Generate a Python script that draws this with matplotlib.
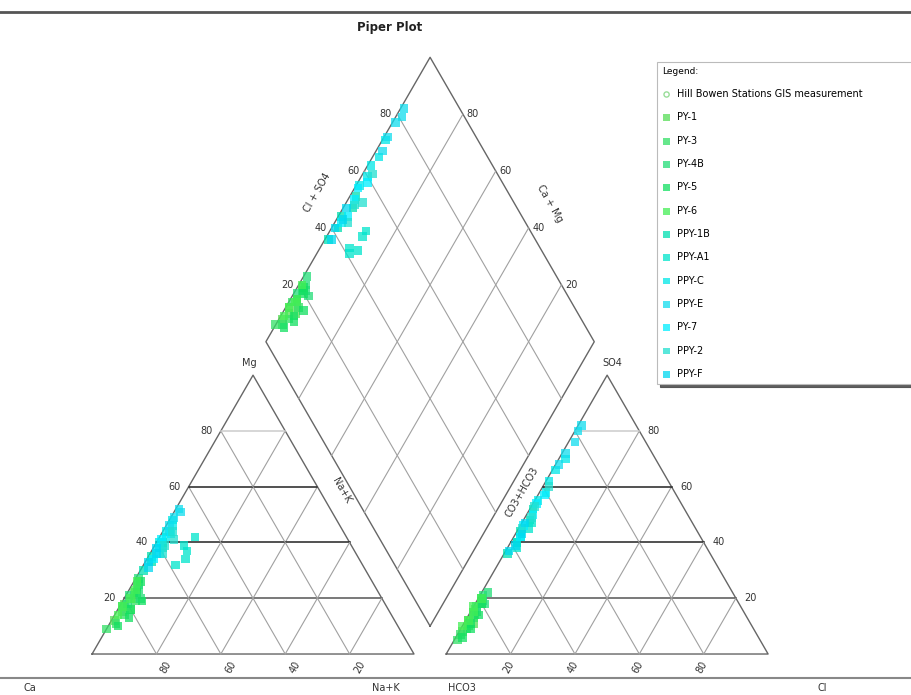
import numpy as np
import matplotlib
matplotlib.use("Agg")
import matplotlib.pyplot as plt

# series names and colours (legend order)
names = ["PY-1", "PY-3", "PY-4B", "PY-5", "PY-6",
         "PPY-1B", "PPY-A1", "PPY-C", "PPY-E", "PY-7", "PPY-2", "PPY-F"]
colors = ["#55dd55", "#33e066", "#22dd77", "#11e060", "#44ee55",
          "#00e0b0", "#00e5cc", "#00e8e8", "#11ddee", "#00eeff", "#22e0d0", "#00d8f0"]

# cation / anion percentages per sample (Ca = 100-Mg-NaK, HCO3 = 100-SO4-Cl)
mg = [[12, 15, 18, 20, 22, 16], [9, 11, 14, 17, 19, 24], [18, 21, 23, 25, 27, 20],
      [10, 13, 16, 19, 22, 26], [14, 17, 20, 23, 26],
      [30, 33, 35, 38, 40], [32, 34, 37, 39, 42], [40, 42, 44, 46, 48],
      [44, 46, 49, 51, 52], [34, 36, 38, 41, 43], [36, 39, 41, 44], [31, 33, 36, 38]]
nak = [[1, 2, 1, 3, 2, 4], [0, 2, 3, 1, 4, 2], [2, 1, 3, 2, 1, 5],
       [3, 5, 4, 6, 3, 2], [1, 1, 2, 2, 1],
       [1, 2, 1, 3, 2], [10, 12, 11, 9, 11], [1, 2, 1, 2, 1],
       [2, 1, 1, 2, 1], [2, 3, 2, 1, 3], [4, 3, 5, 3], [2, 1, 2, 1]]
so4 = [[8, 10, 12, 14, 16, 11], [5, 7, 9, 13, 15, 18], [15, 17, 19, 21, 22, 18],
       [6, 9, 11, 14, 18, 20], [10, 12, 15, 17, 20],
       [36, 40, 44, 48, 52], [38, 42, 45, 40, 47], [55, 58, 62, 66, 70],
       [68, 72, 76, 80, 82], [42, 46, 50, 54, 57], [45, 49, 53, 60], [37, 39, 43, 47]]
cl = [[1, 2, 1, 2, 1, 3], [1, 1, 2, 2, 1, 2], [2, 1, 2, 1, 2, 3],
      [2, 3, 2, 3, 2, 1], [0, 1, 1, 0, 1],
      [1, 2, 1, 2, 1], [3, 2, 3, 2, 3], [1, 2, 1, 1, 2],
      [1, 1, 2, 1, 1], [2, 1, 2, 1, 2], [1, 2, 1, 2], [1, 2, 2, 1]]

ticks = [20, 40, 60, 80]

h = np.sqrt(3) / 2
gap = 10      # space between the triangles
off = 100 + gap
ds = 102      # diamond side
B = np.array([100 + gap / 2, gap * h])
L = B + ds * np.array([-0.5, h])
T = B + ds * np.array([0, 2 * h])
R = B + ds * np.array([0.5, h])
vn = ds * np.array([0.5, -h])
vc = ds * np.array([0.5, h])

fig = plt.figure(figsize=(9.12, 6.95), dpi=100)
ax = fig.add_axes([0, 17 / 695, 1, 666 / 695])
ax.set_xlim(-28.6, 254.7)
ax.set_ylim(-7.45, 199.4)
ax.set_xticks([])
ax.set_yticks([])
for s in ["left", "right"]:
    ax.spines[s].set_visible(False)
ax.spines["top"].set_color("#555555")
ax.spines["top"].set_linewidth(2)
ax.spines["bottom"].set_color("#888888")
ax.spines["bottom"].set_linewidth(1.5)

gcol = "#a0a0a0"
ecol = "#666666"
hcols = {20: "#555555", 40: "#222222", 60: "#222222", 80: "#cccccc"}
tcol = "#333333"
fs = 7

# triangles
for x0 in [0, off]:
    ax.plot([x0, x0 + 100, x0 + 50, x0], [0, 0, 100 * h, 0], color=ecol, lw=1)
    for k in ticks:
        # lines parallel to left edge and right edge
        ax.plot([x0 + k, x0 + k + (100 - k) / 2], [0, (100 - k) * h], color=gcol, lw=0.8)
        ax.plot([x0 + k, x0 + k / 2], [0, k * h], color=gcol, lw=0.8)
        # horizontal lines
        ax.plot([x0 + k / 2, x0 + 100 - k / 2], [k * h, k * h], color=hcols[k], lw=1.1)

# diamond
D = np.array([B, R, T, L, B])
ax.plot(D[:, 0], D[:, 1], color=ecol, lw=1)
for k in ticks:
    p0 = L + k / 100 * vc
    p1 = p0 + vn
    ax.plot([p0[0], p1[0]], [p0[1], p1[1]], color=gcol, lw=0.8)
    p0 = L + k / 100 * vn
    p1 = p0 + vc
    ax.plot([p0[0], p1[0]], [p0[1], p1[1]], color=gcol, lw=0.8)

# tick labels
for k in ticks:
    ax.text(k / 2 - 4.5, k * h, str(k), ha="center", va="center", fontsize=fs, color=tcol)
    ax.text(off + 100 - k / 2 + 4.5, k * h, str(k), ha="center", va="center", fontsize=fs, color=tcol)
    ax.text(k + 3, -4, str(100 - k), ha="center", va="center", fontsize=fs, color=tcol, rotation=60)
    ax.text(off + k - 0.5, -4, str(k), ha="center", va="center", fontsize=fs, color=tcol, rotation=60)
    p = L + k / 100 * vc
    ax.text(p[0] - 3.5, p[1], str(k), ha="center", va="center", fontsize=fs, color=tcol)
    p = T + k / 100 * vn
    ax.text(p[0] + 3, p[1], str(100 - k), ha="center", va="center", fontsize=fs, color=tcol)

ax.text(49, 90.4, "Mg", ha="center", va="center", fontsize=fs, color=tcol)
ax.text(161.5, 90.4, "SO4", ha="center", va="center", fontsize=fs, color=tcol)
ax.text(69.9, 143.2, "Cl + SO4", ha="center", va="center", fontsize=fs, color=tcol, rotation=60)
ax.text(142.2, 140, "Ca + Mg", ha="center", va="center", fontsize=fs, color=tcol, rotation=-60)
ax.text(77.6, 50.9, "Na+K", ha="center", va="center", fontsize=fs, color=tcol, rotation=-60)
ax.text(133.5, 50.3, "CO3+HCO3", ha="center", va="center", fontsize=fs, color=tcol, rotation=60)
for x, lab in [(-19.3, "Ca"), (91.3, "Na+K"), (115, "HCO3"), (226.7, "Cl")]:
    ax.text(x, -10.6, lab, ha="center", va="center", fontsize=fs, color=tcol, clip_on=False)

fig.text(390 / 912, 1 - 27 / 695, "Piper Plot", ha="center", va="center",
         fontsize=8.5, fontweight="bold", color="#222222")

# data
ax.scatter([], [], marker="o", s=22, facecolors="none", edgecolors="#99dd99",
           label="Hill Bowen Stations GIS measurement")
for i, name in enumerate(names):
    m = np.array(mg[i], float)
    n = np.array(nak[i], float)
    s4 = np.array(so4[i], float)
    c = np.array(cl[i], float)
    xs = np.concatenate([n + m / 2, off + c + s4 / 2])
    ys = np.concatenate([m * h, s4 * h])
    pd_ = L[None, :] + (n / 100)[:, None] * vn + ((s4 + c) / 100)[:, None] * vc
    xs = np.concatenate([xs, pd_[:, 0]])
    ys = np.concatenate([ys, pd_[:, 1]])
    ax.scatter(xs, ys, marker="s", s=38, color=colors[i], alpha=0.75,
               edgecolors="none", label=name, zorder=3)

leg = ax.legend(loc="upper left", bbox_to_anchor=(652 / 912, 1 - 57 / 695, 0.32, 0),
                bbox_transform=fig.transFigure, mode="expand", title="Legend:",
                alignment="left", fontsize=7, title_fontsize=6.5, labelspacing=1.37,
                frameon=True, fancybox=False, edgecolor="#bbbbbb",
                shadow={"color": "0.3", "alpha": 0.9}, handlelength=1.0,
                handletextpad=0.6, borderpad=0.5, markerscale=0.8)
leg.get_frame().set_linewidth(0.8)

fig.savefig("out.png", dpi=100)
